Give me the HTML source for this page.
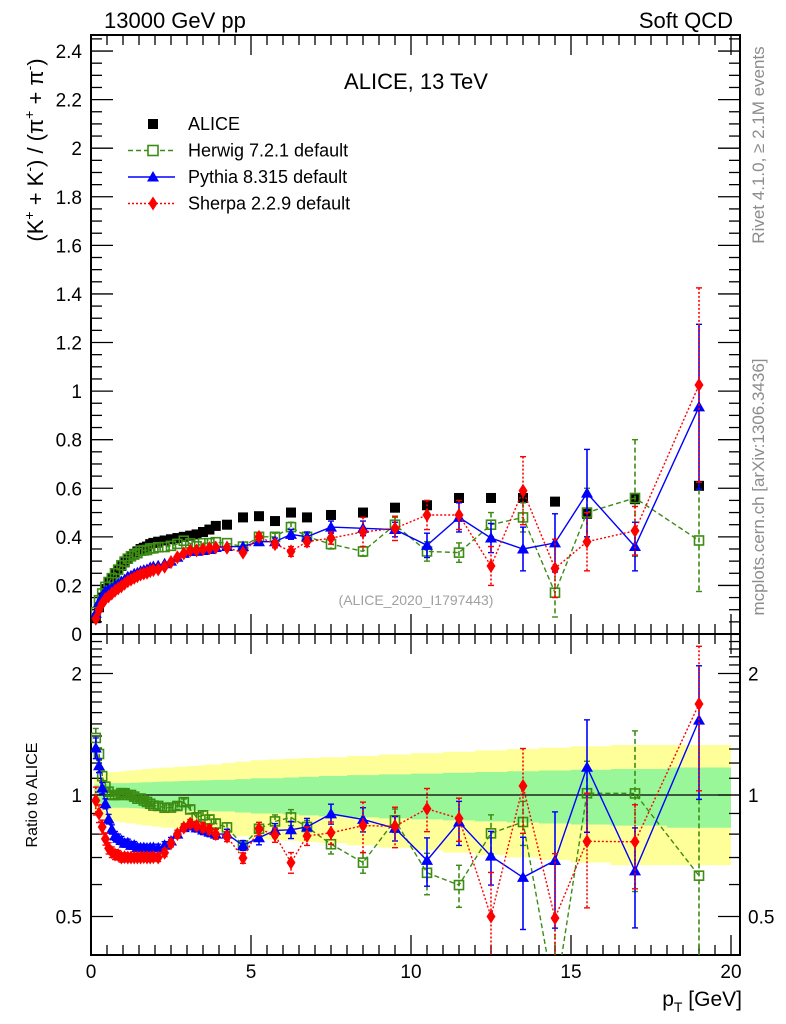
<!DOCTYPE html>
<html><head><meta charset="utf-8"><style>
html,body{margin:0;padding:0;background:#fff;overflow:hidden;width:786px;height:1024px;}
svg{display:block;position:absolute;left:0;top:0;overflow:hidden;font-family:"Liberation Sans",sans-serif;}
</style></head><body>
<svg id="chart" width="786" height="1024" viewBox="0 0 786 1024" xmlns="http://www.w3.org/2000/svg">
<defs>
<clipPath id="cMain"><rect x="91" y="35" width="649" height="599"/></clipPath>
<clipPath id="cRat"><rect x="91" y="634" width="649" height="321"/></clipPath>
</defs>
<text x="104" y="28" font-size="22">13000 GeV pp</text>
<text x="733" y="28" font-size="22" text-anchor="end">Soft QCD</text>
<text x="416" y="89" font-size="22" text-anchor="middle">ALICE, 13 TeV</text>
<text transform="translate(43,150) rotate(-90)" font-size="22" text-anchor="middle">(K<tspan font-size="14" dy="-9">+</tspan><tspan dy="9"> + K</tspan><tspan font-size="14" dy="-9">-</tspan><tspan dy="9">) / (π</tspan><tspan font-size="14" dy="-9">+</tspan><tspan dy="9"> + π</tspan><tspan font-size="14" dy="-9">-</tspan><tspan dy="9">)</tspan></text>
<text transform="translate(37,795) rotate(-90)" font-size="16" text-anchor="middle">Ratio to ALICE</text>
<text x="742" y="1006" font-size="21" text-anchor="end">p<tspan font-size="14" dy="6">T</tspan><tspan dy="-6"> [GeV]</tspan></text>
<text transform="translate(764,145) rotate(-90)" font-size="17" fill="#8c8c8c" text-anchor="middle">Rivet 4.1.0, ≥ 2.1M events</text>
<text transform="translate(764,487) rotate(-90)" font-size="17" fill="#8c8c8c" text-anchor="middle">mcplots.cern.ch [arXiv:1306.3436]</text>
<text x="416" y="605" font-size="14" fill="#a0a0a0" text-anchor="middle">(ALICE_2020_I1797443)</text>
<g id="legend"></g>
<g id="bands" clip-path="url(#cRat)"></g>
<g id="axes"></g>
<g id="mainMarks" clip-path="url(#cMain)"></g>
<g id="ratMarks" clip-path="url(#cRat)"></g>
</svg>
<script>
const pT = [0.15,0.25,0.35,0.45,0.55,0.65,0.75,0.85,0.95,1.05,1.15,1.25,1.35,1.45,1.55,1.65,1.75,1.85,1.95,2.1,2.3,2.5,2.7,2.9,3.1,3.3,3.5,3.7,3.9,4.25,4.75,5.25,5.75,6.25,6.75,7.5,8.5,9.5,10.5,11.5,12.5,13.5,14.5,15.5,17,19];
const alice = [0.065,0.11,0.15,0.185,0.21,0.23,0.25,0.265,0.28,0.295,0.31,0.32,0.33,0.34,0.35,0.355,0.36,0.37,0.375,0.38,0.385,0.39,0.395,0.40,0.405,0.41,0.42,0.43,0.445,0.45,0.48,0.485,0.465,0.50,0.48,0.49,0.50,0.52,0.53,0.56,0.56,0.56,0.545,0.495,0.555,0.61];
const herwig = [0.09,0.139,0.167,0.194,0.214,0.23,0.25,0.265,0.283,0.298,0.31,0.32,0.327,0.333,0.343,0.344,0.346,0.352,0.353,0.357,0.358,0.363,0.371,0.384,0.373,0.361,0.374,0.374,0.378,0.374,0.36,0.40,0.40,0.44,0.40,0.37,0.34,0.45,0.34,0.335,0.45,0.48,0.17,0.50,0.56,0.385];
const pythia = [0.085,0.13,0.156,0.176,0.183,0.189,0.198,0.207,0.216,0.224,0.236,0.24,0.248,0.252,0.259,0.263,0.266,0.274,0.278,0.281,0.289,0.30,0.316,0.332,0.34,0.34,0.344,0.348,0.356,0.36,0.36,0.38,0.38,0.41,0.40,0.44,0.435,0.43,0.365,0.48,0.395,0.35,0.375,0.58,0.36,0.935];
const sherpa = [0.063,0.099,0.125,0.144,0.155,0.166,0.178,0.188,0.196,0.207,0.217,0.224,0.231,0.238,0.245,0.249,0.252,0.259,0.263,0.266,0.277,0.296,0.316,0.332,0.344,0.344,0.349,0.353,0.356,0.355,0.335,0.40,0.37,0.34,0.38,0.395,0.42,0.435,0.49,0.49,0.28,0.59,0.27,0.38,0.425,1.025];
const herwigErr = [0.005,0.005,0.005,0.005,0.005,0.005,0.005,0.005,0.005,0.005,0.005,0.005,0.005,0.005,0.005,0.005,0.005,0.005,0.005,0.006,0.006,0.006,0.007,0.007,0.008,0.008,0.009,0.009,0.01,0.01,0.01,0.01,0.015,0.02,0.015,0.02,0.02,0.03,0.04,0.04,0.05,0.06,0.1,0.1,0.24,0.21];
const pythiaErr = [0.005,0.005,0.005,0.005,0.005,0.005,0.005,0.005,0.005,0.005,0.005,0.005,0.005,0.005,0.005,0.005,0.005,0.005,0.005,0.006,0.006,0.006,0.007,0.007,0.008,0.008,0.009,0.009,0.01,0.01,0.01,0.015,0.015,0.02,0.02,0.025,0.03,0.03,0.05,0.06,0.06,0.09,0.12,0.18,0.1,0.34];
const sherpaErr = [0.005,0.005,0.005,0.005,0.005,0.005,0.005,0.005,0.005,0.005,0.005,0.005,0.005,0.005,0.005,0.005,0.005,0.005,0.005,0.006,0.006,0.006,0.007,0.007,0.008,0.008,0.009,0.009,0.01,0.01,0.01,0.015,0.015,0.02,0.02,0.025,0.06,0.05,0.06,0.06,0.08,0.14,0.12,0.12,0.1,0.4];
const aliceStatRel = [0.06,0.06,0.065,0.065,0.07,0.07,0.07,0.07,0.07,0.07,0.07,0.072,0.072,0.073,0.074,0.075,0.075,0.076,0.077,0.078,0.08,0.08,0.082,0.083,0.085,0.085,0.087,0.088,0.09,0.09,0.095,0.1,0.1,0.105,0.11,0.115,0.12,0.125,0.13,0.135,0.14,0.145,0.15,0.155,0.16,0.17];
const aliceTotRel = [0.1,0.11,0.12,0.13,0.135,0.14,0.14,0.14,0.145,0.145,0.15,0.15,0.15,0.155,0.155,0.16,0.16,0.16,0.165,0.165,0.17,0.17,0.175,0.175,0.18,0.18,0.185,0.19,0.19,0.2,0.21,0.22,0.225,0.23,0.235,0.24,0.25,0.26,0.27,0.28,0.29,0.3,0.31,0.32,0.33,0.33];
const mainYTicks = ["0","0.2","0.4","0.6","0.8","1","1.2","1.4","1.6","1.8","2","2.2","2.4"];
const xTickLabels = ["0","5","10","15","20"];
const ratioTickLabels = ["0.5","1","2"];

const NS = "http://www.w3.org/2000/svg";
const X0 = 91, X1 = 740, MT = 35, MB = 634, RB = 955;
function xPx(v){ return X0 + v * 32; }
function yMain(v){ return 634 - v * 242.9; }
function yRat(r){ return 795 - 121.5 * Math.log2(r); }
function mk(tag, attrs, parent){ const e = document.createElementNS(NS, tag); for (const k in attrs) e.setAttribute(k, attrs[k]); parent.appendChild(e); return e; }

const axes = document.getElementById('axes');
const f1 = mk('rect', {x:X0,y:MT,width:X1-X0,height:MB-MT,fill:'none',stroke:'#000','stroke-width':2}, axes);


const f2 = mk('rect', {x:X0,y:MB,width:X1-X0,height:RB-MB,fill:'none',stroke:'#000','stroke-width':2}, axes);


for (let i = 0; i <= 40; i++) {
  const v = i * 0.5, x = xPx(v), major = (i % 10 === 0), L = major ? 20 : 10;
  for (const [yb, yt] of [[MB, MT], [RB, MB]]) {
    mk('line', {x1:x,y1:yb,x2:x,y2:yb-L,stroke:'#000','stroke-width':1.3}, axes);
    mk('line', {x1:x,y1:yt,x2:x,y2:yt+L,stroke:'#000','stroke-width':1.3}, axes);
  }
}
xTickLabels.forEach((s) => {
  const t = mk('text', {x:xPx(parseFloat(s)),y:978,'font-size':19,'text-anchor':'middle'}, axes);
  t.textContent = s;
  
  
});
for (let i = 0; i <= 49; i++) {
  const v = i * 0.05, y = yMain(v); if (y < MT) continue;
  const major = (i % 4 === 0), L = major ? 22 : 11;
  mk('line', {x1:X0,y1:y,x2:X0+L,y2:y,stroke:'#000','stroke-width':1.3}, axes);
  mk('line', {x1:X1,y1:y,x2:X1-L,y2:y,stroke:'#000','stroke-width':1.3}, axes);
}
mainYTicks.forEach((s) => {
  const t = mk('text', {x:82,y:yMain(parseFloat(s))+7,'font-size':19,'text-anchor':'end'}, axes);
  t.textContent = s;
  
  
});
const rt = [0.4,0.5,0.6,0.7,0.8,0.9,1,1.1,1.2,1.3,1.4,1.5,1.6,1.7,1.8,1.9,2,2.1,2.2,2.3,2.4,2.5];
rt.forEach((r) => {
  const y = yRat(r); if (y > RB || y < MB) return;
  const major = (r === 0.5 || r === 1 || r === 2), L = major ? 22 : 11;
  mk('line', {x1:X0,y1:y,x2:X0+L,y2:y,stroke:'#000','stroke-width':1.3}, axes);
  mk('line', {x1:X1,y1:y,x2:X1-L,y2:y,stroke:'#000','stroke-width':1.3}, axes);
});
ratioTickLabels.forEach((s) => {
  const y = yRat(parseFloat(s)) + 7;
  const t = mk('text', {x:82,y:y,'font-size':19,'text-anchor':'end'}, axes);
  t.textContent = s;
  
  
  const t2 = mk('text', {x:748,y:y,'font-size':19}, axes);
  t2.textContent = s;
  
  
});

const edges = [];
edges.push(0.1);
for (let i = 0; i < pT.length - 1; i++) edges.push((pT[i] + pT[i+1]) / 2);
edges.push(20);
function bandPath(rel) {
  let top = [], bot = [];
  for (let i = 0; i < pT.length; i++) {
    top.push([xPx(edges[i]), yRat(1 + rel[i])], [xPx(edges[i+1]), yRat(1 + rel[i])]);
    bot.push([xPx(edges[i]), yRat(1 - rel[i])], [xPx(edges[i+1]), yRat(1 - rel[i])]);
  }
  return 'M' + top.concat(bot.reverse()).map(p => p[0].toFixed(1) + ',' + p[1].toFixed(1)).join('L') + 'Z';
}
const bands = document.getElementById('bands');
const by = mk('path', {d:bandPath(aliceTotRel), fill:'#ffff99'}, bands);


const bg = mk('path', {d:bandPath(aliceStatRel), fill:'#99f799'}, bands);


const one = mk('line', {x1:X0,y1:yRat(1),x2:X1,y2:yRat(1),stroke:'#000','stroke-width':1.3}, bands);



function marker(g, kind, x, y, color) {
  let m;
  if (kind === 'sq') m = mk('rect', {x:x-5,y:y-5,width:10,height:10,fill:'#000'}, g);
  else if (kind === 'osq') m = mk('rect', {x:x-4.5,y:y-4.5,width:9,height:9,fill:'none',stroke:color,'stroke-width':1.6}, g);
  else if (kind === 'tri') m = mk('path', {d:`M${x},${y-6}L${x+6},${y+4.5}L${x-6},${y+4.5}Z`,fill:color}, g);
  else m = mk('path', {d:`M${x},${y-7}L${x+4.5},${y}L${x},${y+7}L${x-4.5},${y}Z`,fill:color}, g);
  return m;
}
const series = [
  {name:'herwig', vals:herwig, err:herwigErr, color:'#3c8c14', dash:'5,3', kind:'osq'},
  {name:'pythia', vals:pythia, err:pythiaErr, color:'#0000ff', dash:'', kind:'tri'},
  {name:'sherpa', vals:sherpa, err:sherpaErr, color:'#ff0000', dash:'2,2', kind:'dia'}
];
const mainG = document.getElementById('mainMarks');
const ratG = document.getElementById('ratMarks');
const ag = mk('g', {}, mainG);


pT.forEach((x, i) => {
  const m = marker(ag, 'sq', xPx(x), yMain(alice[i]));
  
  
});
series.forEach((s) => {
  for (const [g, yf, vf, ef] of [[mainG, yMain, (i) => s.vals[i], (i) => s.err[i]], [ratG, yRat, (i) => s.vals[i] / alice[i], (i) => s.err[i] / alice[i]]]) {
    const sg = mk('g', {}, g);
    
    
    const pts = pT.map((x, i) => xPx(x).toFixed(1) + ',' + yf(Math.max(vf(i), 0.05)).toFixed(1)).join(' ');
    const pl = mk('polyline', {points:pts, fill:'none', stroke:s.color, 'stroke-width':1.4, 'stroke-dasharray':s.dash}, sg);
    
    
    pT.forEach((x, i) => {
      const v = vf(i), e = ef(i), px = xPx(x);
      if (e > 0.012) {
        const lo = Math.max(v - e, 0.05), y1 = yf(v + e), y2 = yf(lo);
        mk('line', {x1:px,y1:y1,x2:px,y2:y2,stroke:s.color,'stroke-width':1.6,'stroke-dasharray':s.dash}, sg);
        mk('line', {x1:px-3,y1:y1,x2:px+3,y2:y1,stroke:s.color,'stroke-width':1.4}, sg);
        mk('line', {x1:px-3,y1:y2,x2:px+3,y2:y2,stroke:s.color,'stroke-width':1.4}, sg);
      }
      const m = marker(sg, s.kind, px, yf(Math.max(v, 0.05)), s.color);
      
      
    });
  }
});
const lg = document.getElementById('legend');
const legendItems = [
  {label:'ALICE', kind:'sq', color:'#000', dash:null},
  {label:'Herwig 7.2.1 default', kind:'osq', color:'#3c8c14', dash:'5,3'},
  {label:'Pythia 8.315 default', kind:'tri', color:'#0000ff', dash:''},
  {label:'Sherpa 2.2.9 default', kind:'dia', color:'#ff0000', dash:'2,2'}
];
legendItems.forEach((it, i) => {
  const y = 124 + i * 26.5;
  const g = mk('g', {}, lg);
  
  
  if (it.dash !== null) mk('line', {x1:128,y1:y,x2:175,y2:y,stroke:it.color,'stroke-width':1.4,'stroke-dasharray':it.dash}, g);
  if (it.kind === 'osq') mk('rect', {x:148,y:y-5,width:10,height:10,fill:'#fff',stroke:it.color,'stroke-width':1.6}, g);
  else marker(g, it.kind, 153, y, it.color);
  const t = mk('text', {x:188,y:y+6,'font-size':18}, g);
  t.textContent = it.label;
});
</script>
</body></html>
